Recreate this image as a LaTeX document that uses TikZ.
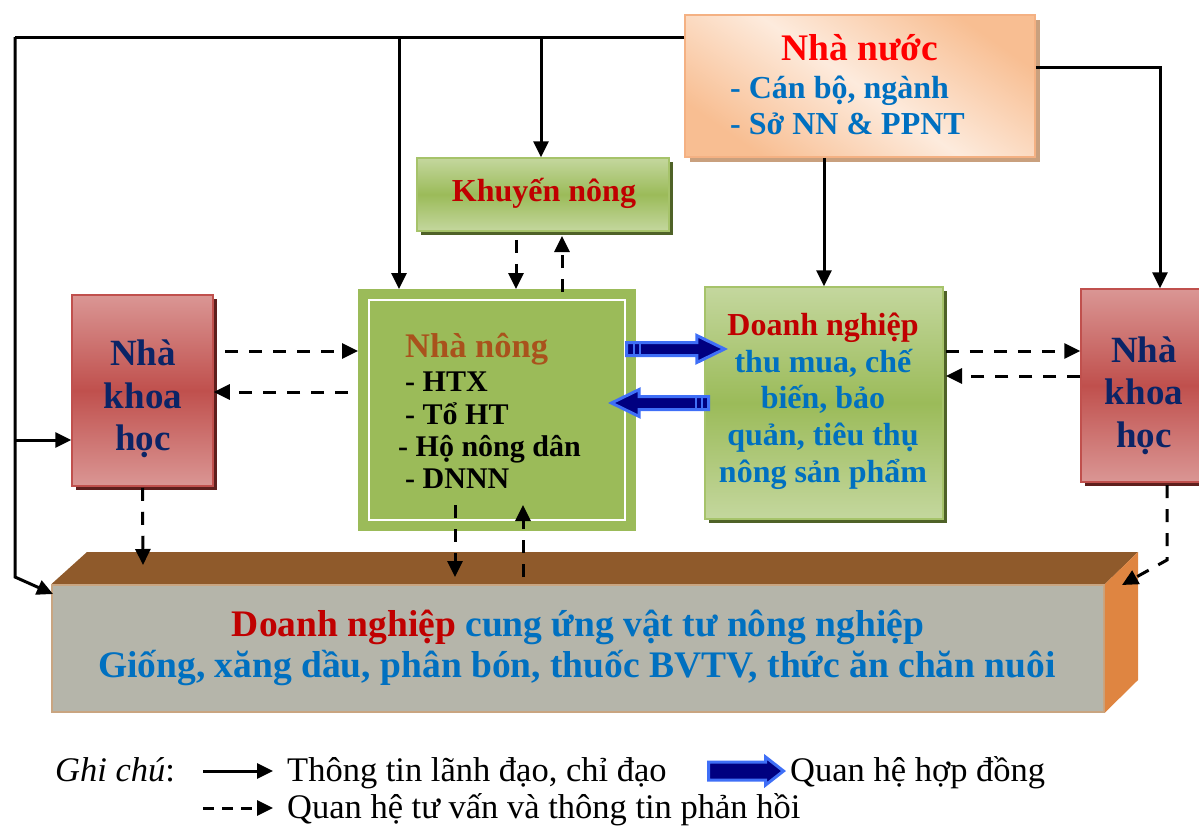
\documentclass[tikz,border=0pt]{standalone}
\usepackage{fontspec}
\setmainfont{Liberation Serif}
\usetikzlibrary{arrows.meta,shapes.arrows,shadows}

\definecolor{gmid}{HTML}{9BBB59}
\definecolor{glight}{HTML}{C4D79E}
\definecolor{gborder}{HTML}{A6C36A}
\definecolor{gshadow}{HTML}{4F6228}
\definecolor{rmid}{HTML}{C0504D}
\definecolor{rlight}{HTML}{DA9694}
\definecolor{rshadow}{HTML}{5E1F1D}
\definecolor{pdark}{HTML}{F8BE92}
\definecolor{plight}{HTML}{FDEBDD}
\definecolor{pborder}{HTML}{F4B183}
\definecolor{pshadow}{HTML}{C9A07E}
\definecolor{txred}{HTML}{C00000}
\definecolor{txblue}{HTML}{0070C0}
\definecolor{txnavy}{HTML}{0B2466}
\definecolor{txbrown}{HTML}{A9521C}
\definecolor{arlight}{HTML}{3F6FF7}
\definecolor{ardark}{HTML}{000080}
\definecolor{topface}{HTML}{8F5A2B}
\definecolor{sideface}{HTML}{DF8541}
\definecolor{frontface}{HTML}{B5B5AA}
\definecolor{frontedge}{HTML}{C9A581}

\begin{document}
\begin{tikzpicture}[x=1pt,y=-1pt,
  ln/.style={line width=3pt},
  arr/.style={ln,-{Triangle[length=16pt,width=15pt]}},
  darr/.style={arr,dash pattern=on 13pt off 11pt},
  gbox/.style={draw=gborder,line width=1.5pt,inner sep=0pt,
    top color=glight,bottom color=glight,middle color=gmid,
    drop shadow={shadow xshift=4pt,shadow yshift=-4pt,fill=gshadow,opacity=1}},
  rbox/.style={draw=rmid,line width=1.5pt,inner sep=0pt,
    top color=rlight,bottom color=rlight,middle color=rmid,
    drop shadow={shadow xshift=4pt,shadow yshift=-4pt,fill=rshadow,opacity=1}},
  pbox/.style={draw=pborder,line width=1.5pt,inner sep=0pt,
    top color=pdark,bottom color=pdark,middle color=plight,shading angle=-35,
    drop shadow={shadow xshift=5pt,shadow yshift=-5pt,fill=pshadow,opacity=1}},
  contract/.style={shape=single arrow,draw=arlight,fill=ardark,line width=3pt,
    inner sep=5pt,single arrow head extend=7pt,single arrow tip angle=52,anchor=tail},
  tb/.style={anchor=base,inner sep=0pt,font=\bfseries\fontsize{#1}{#1}\selectfont},
  tbw/.style={anchor=base west,inner sep=0pt,font=\bfseries\fontsize{#1}{#1}\selectfont},
  tl/.style={anchor=base west,inner sep=0pt,font=\fontsize{34.5}{34.5}\selectfont},
]
\useasboundingbox (0,0) rectangle (1199,825);

% ---------- boxes ----------
\node[pbox,minimum width=350pt,minimum height=142pt] (nn) at (860,86) {};
\node[gbox,minimum width=252pt,minimum height=73pt] (kn) at (543,194.5) {};
\node[rbox,minimum width=141pt,minimum height=191pt] (kh1) at (142.5,390.5) {};
\node[rbox,minimum width=125pt,minimum height=193pt] (kh2) at (1143.5,385.5) {};
\node[gbox,minimum width=238pt,minimum height=232pt] (dn) at (824,403) {};
\node[draw=gmid,fill=gmid,line width=1pt,inner sep=0pt,minimum width=277pt,minimum height=241pt] (nong) at (497,410) {};
\draw[white,line width=2pt] ([xshift=11pt,yshift=-11pt]nong.north west) rectangle ([xshift=-11pt,yshift=11pt]nong.south east);

% supplier block drawn as a 3D bar
\node[draw=frontedge,fill=frontface,line width=1.5pt,inner sep=0pt,minimum width=1052pt,minimum height=127pt] (sup) at (578,648.5) {};
\coordinate (backl) at (87,552);
\coordinate (backr) at (1138,552);
\coordinate (sider) at (1138,680);
\fill[topface] (sup.north west) -- (backl) -- (backr) -- (sup.north east) -- cycle;
\fill[sideface] (sup.north east) -- (backr) -- (sider) -- (sup.south east) -- cycle;
\draw[frontedge,line width=1.5pt] (sup.north west) -- (sup.north east);

% ---------- texts ----------
\node[tb=37.5,text=red] (nnt) at (860,60) {Nhà nước};
\node[tbw=32,text=txblue] (nn1) at (730,98) {- Cán bộ, ngành};
\node[tbw=32,text=txblue] (nn2) at (730,134) {- Sở NN \& PPNT};

\node[tb=32,text=txred] (knt) at (544,201) {Khuyến nông};

\node[tbw=34.5,text=txbrown] (nongt) at (405,357) {Nhà nông};
\node[tbw=30,anchor=base west] (ng1) at (405,391) {- HTX};
\node[tbw=30] (ng2) at (405,424) {- Tổ HT};
\node[tbw=30] (ng3) at (398,456) {- Hộ nông dân};
\node[tbw=30] (ng4) at (405,488) {- DNNN};

\node[tb=32,text=txred] (dn1) at (823,335) {Doanh nghiệp};
\node[tb=32,text=txblue] (dn2) at (823,372) {thu mua, chế};
\node[tb=32,text=txblue] (dn3) at (823,408) {biến, bảo};
\node[tb=32,text=txblue] (dn4) at (823,445) {quản, tiêu thụ};
\node[tb=32,text=txblue] (dn5) at (823,482) {nông sản phẩm};

\node[tb=37,text=txnavy] (ka1) at (143,365) {Nhà};
\node[tb=37,text=txnavy] (ka2) at (143,408) {khoa};
\node[tb=37,text=txnavy] (ka3) at (143,450) {học};
\node[tb=37,text=txnavy] (kb1) at (1144,362) {Nhà};
\node[tb=37,text=txnavy] (kb2) at (1144,404) {khoa};
\node[tb=37,text=txnavy] (kb3) at (1144,447) {học};

\node[tb=37.5,text=txblue] (sup1) at (578,636) {\textcolor{txred}{Doanh nghiệp} cung ứng vật tư nông nghiệp};
\node[tb=37.5,text=txblue] (sup2) at (577,677) {Giống, xăng dầu, phân bón, thuốc BVTV, thức ăn chăn nuôi};

% ---------- directives (solid) ----------
\coordinate (corner) at (15,37);
\coordinate (bend) at (15,577);
\coordinate (supc) at (53,594);
\draw[ln] (nn.west |- corner) -- (corner);
\draw[arr] (corner) -- (bend) -- (supc);
\draw[arr] (15,440) -- (kh1.west |- 0,440);
\draw[arr] (399,37) -- (nong.north -| 399,0);
\draw[arr] (541,37) -- (kn.north -| 541,0);
\draw[arr] (nn.south -| dn.north) -- (dn.north);
\draw[arr] (nn.east |- 0,67) -- (1160,67) -- (kh2.north -| 1160,0);

% ---------- advice / feedback (dashed) ----------
\draw[darr] (kn.south -| 516,0) ++(0,8) -- (nong.north -| 516,0);
\draw[darr] (562,292) -- (562,236);
\draw[darr] (225,351) -- (nong.west |- 0,351);
\draw[darr] (348,392) -- (kh1.east |- 0,392);
\draw[darr] (kh1.south) ++(0,1) -- (143,565);
\draw[darr] (455,505) -- (455,577);
\draw[darr] (523,577) -- (523,505);
\draw[darr] (dn.east |- 0,351) ++(2,0) -- (kh2.west |- 0,351);
\draw[darr] (kh2.west |- 0,376) -- (946,376);
\draw[darr] (1167,485) -- (1167,560) -- (1122,585);

% ---------- contract arrows ----------
\node[contract,minimum height=98pt] (ca1) at (625,349) {};
\node[contract,minimum height=97pt,shape border rotate=180] (ca2) at (710,403) {};
\draw[arlight,line width=1.4pt] (634,344) -- (634,354) (640,344) -- (640,354);
\draw[arlight,line width=1.4pt] (696,398) -- (696,408) (702,398) -- (702,408);

% ---------- legend ----------
\node[tl,font=\itshape\fontsize{34.5}{34.5}\selectfont] (lg0) at (55,781) {Ghi chú\/\upshape:};
\coordinate (la1) at (203,771);
\coordinate (la2) at (273,771);
\draw[arr] (la1) -- (la2);
\node[tl] (lg1) at (287,781) {Thông tin lãnh đạo, chỉ đạo};
\node[contract,minimum height=75pt,inner sep=7.5pt,single arrow head extend=5pt,single arrow tip angle=76] (lgc) at (707,771) {};
\node[tl] (lg2) at (790,781) {Quan hệ hợp đồng};
\coordinate (lb1) at (203,808);
\coordinate (lb2) at (273,808);
\draw[arr,dash pattern=on 11pt off 8pt] (lb1) -- (lb2);
\node[tl] (lg3) at (287,818) {Quan hệ tư vấn và thông tin phản hồi};
\end{tikzpicture}
\end{document}
